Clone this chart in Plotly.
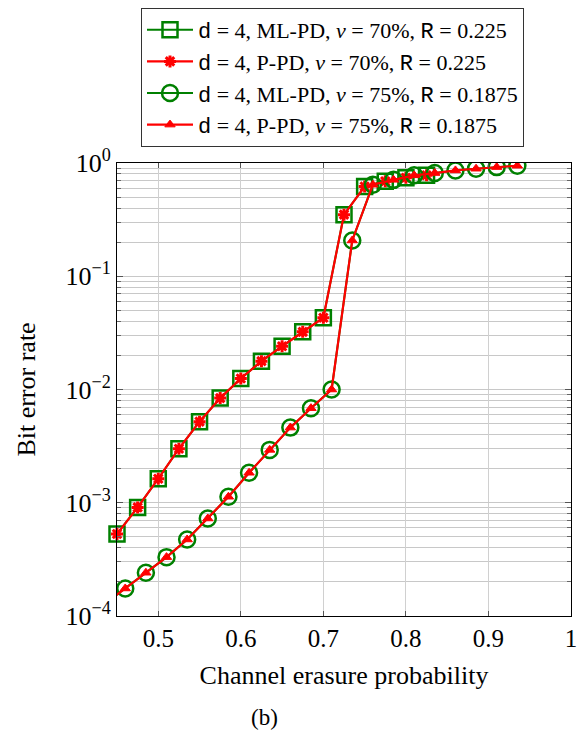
import plotly.graph_objects as go

# ---- data ----
x70 = [0.45, 0.475, 0.5, 0.525, 0.55, 0.575, 0.6, 0.625, 0.65, 0.675, 0.7, 0.725, 0.75, 0.775, 0.8, 0.825]
ber_ml70 = [5.3e-4, 9.1e-4, 1.63e-3, 3.0e-3, 5.2e-3, 8.4e-3, 0.0125, 0.0178, 0.0241, 0.0323, 0.043, 0.35, 0.62, 0.69, 0.74, 0.78]
ber_p70 = [5.3e-4, 9.1e-4, 1.63e-3, 3.0e-3, 5.2e-3, 8.4e-3, 0.0125, 0.0178, 0.0241, 0.0323, 0.043, 0.35, 0.62, 0.69, 0.74, 0.78]

x75 = [0.435, 0.46, 0.485, 0.51, 0.535, 0.56, 0.585, 0.61, 0.635, 0.66, 0.685, 0.71, 0.735, 0.76,
       0.785, 0.81, 0.835, 0.86, 0.885, 0.91, 0.935]
ber_ml75 = [1.28e-4, 1.75e-4, 2.41e-4, 3.31e-4, 4.74e-4, 7.26e-4, 1.13e-3, 1.84e-3, 2.93e-3, 4.61e-3, 6.84e-3,
            0.01, 0.207, 0.643, 0.71, 0.778, 0.815, 0.86, 0.89, 0.92, 0.946]
ber_p75 = [1.28e-4, 1.75e-4, 2.41e-4, 3.31e-4, 4.74e-4, 7.26e-4, 1.13e-3, 1.84e-3, 2.93e-3, 4.61e-3, 6.84e-3,
           0.01, 0.207, 0.643, 0.71, 0.778, 0.815, 0.86, 0.89, 0.92, 0.946]

x_ticks = [0.5, 0.6, 0.7, 0.8, 0.9, 1.0]
x_ticklabels = ["0.5", "0.6", "0.7", "0.8", "0.9", "1"]
y_ticks = [1e-4, 1e-3, 1e-2, 1e-1, 1]
y_ticklabels = ["10<sup>−4</sup>", "10<sup>−3</sup>", "10<sup>−2</sup>", "10<sup>−1</sup>", "10<sup>0</sup>"]

SERIF = "Liberation Serif"
MONO = "font-family:Liberation Mono"
def lab(method, nu, r):
    return (f"<span style=\"{MONO}\">d</span> = 4, {method}, <i>ν</i> = {nu}%, "
            f"<span style=\"{MONO}\">R</span> = {r}")

names = [lab("ML-PD", 70, "0.225"), lab("P-PD", 70, "0.225"),
         lab("ML-PD", 75, "0.1875"), lab("P-PD", 75, "0.1875")]

GREEN = "#008000"
RED = "#ff0000"

fig = go.Figure()
fig.add_trace(go.Scatter(x=x70, y=ber_ml70, name=names[0], mode="lines+markers",
                         line=dict(color=GREEN, width=2),
                         marker=dict(symbol="square-open", size=15, color=GREEN, line=dict(width=2.5, color=GREEN)),
                         cliponaxis=False))
fig.add_trace(go.Scatter(x=x70, y=ber_p70, name=names[1], mode="lines+markers",
                         line=dict(color=RED, width=2.2),
                         marker=dict(symbol="asterisk-open", size=10, color=RED, line=dict(width=3, color=RED)),
                         cliponaxis=False))
fig.add_trace(go.Scatter(x=x75, y=ber_ml75, name=names[2], mode="lines+markers",
                         line=dict(color=GREEN, width=2),
                         marker=dict(symbol="circle-open", size=16, color=GREEN, line=dict(width=2.5, color=GREEN))))
fig.add_trace(go.Scatter(x=x75, y=ber_p75, name=names[3], mode="lines+markers",
                         line=dict(color=RED, width=2.2),
                         marker=dict(symbol="triangle-up", size=9, color=RED, line=dict(width=1, color=RED))))

minor_y = [m * 10 ** e for e in range(-4, 0) for m in range(2, 10)]

fig.update_layout(
    width=580, height=730,
    margin=dict(l=109, r=17, t=155, b=122, autoexpand=False),
    paper_bgcolor="white", plot_bgcolor="white",
    font=dict(family=SERIF, size=22, color="black"),
    showlegend=True,
    legend=dict(x=(141 - 117) / 454, y=1.0 + 155 / 453, xanchor="left", yanchor="top",
                bordercolor="#333333", borderwidth=1, bgcolor="white",
                font=dict(family=SERIF, size=22), itemwidth=46, tracegroupgap=0),
    xaxis=dict(type="linear", range=[0.45, 1.0], tickvals=x_ticks, ticktext=x_ticklabels,
               ticks="inside", ticklen=5, tickcolor="#555555", mirror="allticks",
               showline=True, linecolor="black", linewidth=1,
               showgrid=True, gridcolor="#d0d0d0", gridwidth=1, zeroline=False,
               tickfont=dict(family=SERIF, size=25),
               title=dict(text="Channel erasure probability", font=dict(family=SERIF, size=26), standoff=14)),
    yaxis=dict(type="log", range=[-4, 0], tickvals=y_ticks, ticktext=y_ticklabels,
               ticks="inside", ticklen=6, tickcolor="#555555", mirror="allticks",
               showline=True, linecolor="black", linewidth=1,
               showgrid=True, gridcolor="#c8c8c8", gridwidth=1, zeroline=False,
               tickfont=dict(family=SERIF, size=26),
               minor=dict(tickmode="array", tickvals=minor_y, ticks="inside", ticklen=4,
                          tickcolor="#666666", showgrid=True, gridcolor="#c8c8c8", gridwidth=1),
               title=dict(text="Bit error rate", font=dict(family=SERIF, size=26), standoff=22)),
    annotations=[dict(text="(b)", xref="paper", yref="paper", x=(264 - 117) / 454, y=-0.225,
                      xanchor="center", yanchor="middle", showarrow=False, font=dict(family=SERIF, size=23))],
)

fig.write_html("out.html")
